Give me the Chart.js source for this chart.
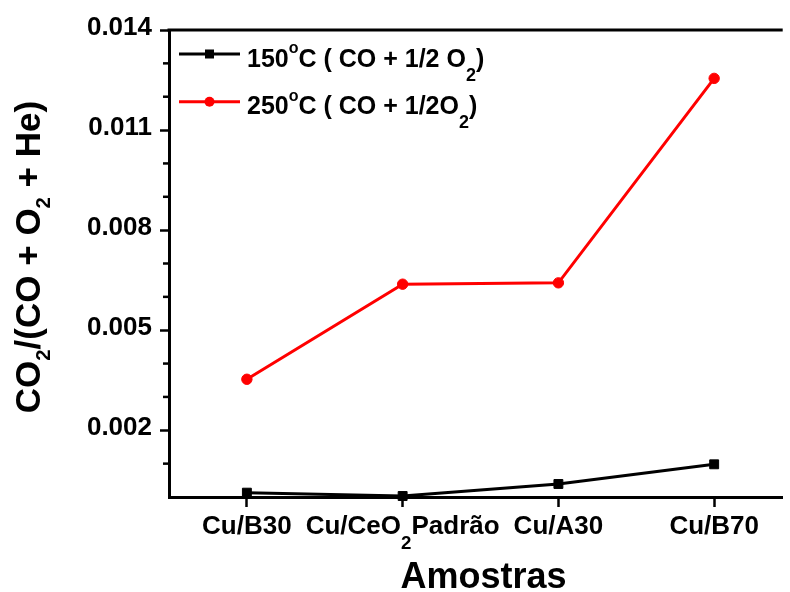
<!DOCTYPE html>
<html><head><meta charset="utf-8">
<style>html,body{margin:0;padding:0;background:#fff;overflow:hidden}canvas{display:block}</style>
<script src="https://cdn.jsdelivr.net/npm/chart.js"></script>
</head><body>
<canvas id="c" width="790" height="592"></canvas>
<script>
// ---- data ----
const categories = ['Cu/B30', 'Cu/CeO₂Padrão', 'Cu/A30', 'Cu/B70'];
const series150Label = '150°C ( CO + 1/2 O₂)';
const series150 = [0.00013, 0.00003, 0.00039, 0.00098];
const series250Label = '250°C ( CO + 1/2O₂)';
const series250 = [0.00353, 0.00638, 0.00642, 0.01255];
const yTickLabels = [0.002, 0.005, 0.008, 0.011, 0.014];
const yMinorStep = 0.001;
const yTitle = 'CO₂/(CO + O₂ + He)';
const xTitle = 'Amostras';

// ---- rich text helpers ----
const FONT = '"Liberation Sans", Arial, sans-serif';
const LBL = {subScale: 0.72, subDy: 0.58, supScale: 0.64, supDy: 0.54};
const TTL = {subScale: 0.58, subDy: 0.3, supScale: 0.6, supDy: 0.5};
const LEG = {subScale: 0.72, subDy: 0.56, supScale: 0.64, supDy: 0.54};
function segs(text) {
  const out = [];
  for (const ch of text) {
    let type = 'n', c = ch;
    if (ch === '₂') { type = 'sub'; c = '2'; }
    else if (ch === '°') { type = 'sup'; c = 'o'; }
    const last = out[out.length - 1];
    if (last && last.type === type) last.s += c; else out.push({type, s: c});
  }
  return out;
}
function segSize(sg, size, st) {
  return sg.type === 'sub' ? size * st.subScale : sg.type === 'sup' ? size * st.supScale : size;
}
function richWidth(ctx, text, size, st) {
  let w = 0;
  for (const sg of segs(text)) { ctx.font = `bold ${segSize(sg, size, st)}px ${FONT}`; w += ctx.measureText(sg.s).width; }
  return w;
}
function drawRich(ctx, text, x, y, size, align, st) {
  const w = richWidth(ctx, text, size, st);
  let cx = align === 'center' ? x - w / 2 : align === 'right' ? x - w : x;
  ctx.textAlign = 'left'; ctx.textBaseline = 'alphabetic';
  for (const sg of segs(text)) {
    ctx.font = `bold ${segSize(sg, size, st)}px ${FONT}`;
    const dy = sg.type === 'sub' ? size * st.subDy : sg.type === 'sup' ? -size * st.supDy : 0;
    ctx.fillText(sg.s, cx, y + dy);
    cx += ctx.measureText(sg.s).width;
  }
}

const decor = {
  id: 'decor',
  afterDraw(chart) {
    const {ctx, chartArea: a, scales: {x, y}} = chart;
    ctx.save();
    ctx.fillStyle = '#000'; ctx.strokeStyle = '#000';
    ctx.lineWidth = 3;
    ctx.beginPath(); ctx.moveTo(a.left - 1.5, a.top); ctx.lineTo(a.right, a.top); ctx.stroke();
    ctx.lineWidth = 2.5;
    for (let k = 1; k * yMinorStep < y.max + 1e-9; k++) {
      const v = k * yMinorStep;
      if (yTickLabels.some(t => Math.abs(t - v) < 1e-9)) continue;
      const py = y.getPixelForValue(v);
      ctx.beginPath(); ctx.moveTo(a.left - 6, py); ctx.lineTo(a.left, py); ctx.stroke();
    }
    categories.forEach((c, i) => drawRich(ctx, c, x.getPixelForValue(i), x.top + 36.5, 26, 'center', LBL));
    drawRich(ctx, xTitle, x.getPixelForValue(1.5) + 3, x.top + 90.7, 36, 'center', LBL);
    ctx.save();
    ctx.translate(39.5, (a.top + a.bottom) / 2 - 6.5);
    ctx.rotate(-Math.PI / 2);
    drawRich(ctx, yTitle, 0, 0, 35, 'center', TTL);
    ctx.restore();
    chart.data.datasets.forEach((ds, i) => {
      const ly = a.top + 24 + i * 47.7;
      ctx.strokeStyle = ds.borderColor; ctx.fillStyle = ds.borderColor; ctx.lineWidth = 3;
      ctx.beginPath(); ctx.moveTo(a.left + 10, ly); ctx.lineTo(a.left + 71, ly); ctx.stroke();
      const mx = a.left + 40.5;
      if (ds.pointStyle === 'rect') ctx.fillRect(mx - 4.5, ly - 4.5, 9, 9);
      else { ctx.beginPath(); ctx.arc(mx, ly, 5, 0, Math.PI * 2); ctx.fill(); }
      ctx.fillStyle = '#000';
      drawRich(ctx, ds.label, a.left + 78, ly + 12.7, 25, 'left', LEG);
    });
    ctx.restore();
  }
};

new Chart(document.getElementById('c'), {
  type: 'line',
  data: {
    datasets: [
      {label: series150Label, data: series150.map((v, i) => ({x: i, y: v})),
       borderColor: '#000000', backgroundColor: '#000000', borderWidth: 3,
       pointStyle: 'rect', pointRadius: 6.3, pointBorderWidth: 1, pointBackgroundColor: '#000000', pointBorderColor: '#000000',
       tension: 0, clip: false},
      {label: series250Label, data: series250.map((v, i) => ({x: i, y: v})),
       borderColor: '#ff0000', backgroundColor: '#ff0000', borderWidth: 3,
       pointStyle: 'circle', pointRadius: 5.2, pointBorderWidth: 1, pointBackgroundColor: '#ff0000', pointBorderColor: '#ff0000',
       tension: 0, clip: false}
    ]
  },
  options: {
    responsive: false, animation: false, devicePixelRatio: 1,
    layout: {padding: {left: 0, top: 30, right: 0, bottom: 0}},
    plugins: {legend: {display: false}, tooltip: {enabled: false}},
    scales: {
      x: {
        type: 'linear', position: 'bottom', min: -0.5, max: 3.44,
        afterBuildTicks: s => { s.ticks = categories.map((c, i) => ({value: i})); },
        afterFit: s => { s.height = 95; },
        ticks: {display: false},
        grid: {drawOnChartArea: false, drawTicks: true, tickLength: 10, tickWidth: 2.5, tickColor: '#000'},
        border: {display: true, color: '#000', width: 3}
      },
      y: {
        min: 0, max: 0.014,
        afterBuildTicks: s => { s.ticks = yTickLabels.map(v => ({value: v})); },
        afterFit: s => { s.width = 169; },
        ticks: {color: '#000', padding: 8, labelOffset: -2, font: {family: FONT, size: 26, weight: 'bold'},
                callback: v => Number(v).toFixed(3)},
        grid: {drawOnChartArea: false, drawTicks: true, tickLength: 9, tickWidth: 2.5, tickColor: '#000'},
        border: {display: true, color: '#000', width: 3}
      }
    }
  },
  plugins: [decor]
});
</script>
</body></html>
